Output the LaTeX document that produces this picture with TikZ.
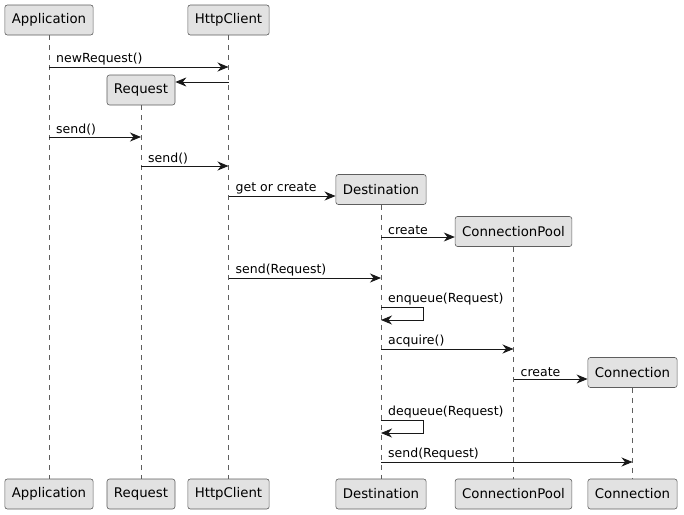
\documentclass[tikz,border=0pt]{standalone}
\usepackage{fontspec}
\setmainfont{DejaVu Sans}
\usetikzlibrary{arrows.meta}
\definecolor{boxfill}{HTML}{E2E2E2}
\definecolor{boxline}{HTML}{5E5E5E}
\definecolor{ink}{HTML}{181818}
\begin{document}
\begin{tikzpicture}[
    x=1pt, y=-1pt,
    >={Stealth[length=11pt,width=9pt,inset=3.5pt]},
    part/.style={draw=boxline, fill=boxfill, rounded corners=2.5pt, line width=0.6pt,
                 minimum height=30pt, inner xsep=7pt, font=\fontsize{13.3}{15}\selectfont},
    life/.style={draw=boxline, line width=0.6pt, dash pattern=on 5pt off 5pt},
    msg/.style={->, draw=ink, line width=0.9pt},
    lbl/.style={anchor=south west, inner sep=0pt, font=\fontsize{12.5}{14}\selectfont}
]
  \useasboundingbox (0,0) rectangle (684,514);

  % nodes
  \node[part] (appT)  at (49,20)      {Application};
  \node[part] (httpT) at (228.5,20)   {HttpClient};
  \node[part] (reqT)  at (141,90)     {Request};
  \node[part] (destT) at (381,189.5)  {Destination};
  \node[part] (poolT) at (513.5,231.5){ConnectionPool};
  \node[part] (connT) at (632.5,372.5){Connection};

  \node[part] (appB)  at (49,494)     {Application};
  \node[part] (reqB)  at (141,494)    {Request};
  \node[part] (httpB) at (228.5,494)  {HttpClient};
  \node[part] (destB) at (381,494)    {Destination};
  \node[part] (poolB) at (513.5,494)  {ConnectionPool};
  \node[part] (connB) at (632.5,494)  {Connection};

  % lifelines
  \draw[life] (appT)  -- (appB);
  \draw[life] (reqT)  -- (reqB);
  \draw[life] (httpT) -- (httpB);
  \draw[life] (destT) -- (destB);
  \draw[life] (poolT) -- (poolB);
  \draw[life] (connT) -- (connB);

  % message rows
  \coordinate (m1)  at (0,67);
  \coordinate (m2)  at (0,82);
  \coordinate (m3)  at (0,137);
  \coordinate (m4)  at (0,166);
  \coordinate (m5)  at (0,196);
  \coordinate (m6)  at (0,237);
  \coordinate (m7)  at (0,278);
  \coordinate (m8)  at (0,307);
  \coordinate (m9)  at (0,349);
  \coordinate (m10) at (0,379);
  \coordinate (m11) at (0,420);
  \coordinate (m12) at (0,462);

  % messages
  \draw[msg] (appT |- m1) -- (httpT |- m1);
  \node[lbl] at ([xshift=7pt,yshift=2pt]appT |- m1) {newRequest()};
  \draw[msg] (httpT |- m2) -- (reqT.east |- m2);

  \draw[msg] (appT |- m3) -- (reqT |- m3);
  \node[lbl] at ([xshift=7pt,yshift=2pt]appT |- m3) {send()};
  \draw[msg] (reqT |- m4) -- (httpT |- m4);
  \node[lbl] at ([xshift=7pt,yshift=2pt]reqT |- m4) {send()};

  \draw[msg] (httpT |- m5) -- (destT.west |- m5);
  \node[lbl] at ([xshift=7pt,yshift=2pt]httpT |- m5) {get or create};
  \draw[msg] (destT |- m6) -- (poolT.west |- m6);
  \node[lbl] at ([xshift=7pt,yshift=2pt]destT |- m6) {create};

  \draw[msg] (httpT |- m7) -- (destT |- m7);
  \node[lbl] at ([xshift=7pt,yshift=2pt]httpT |- m7) {send(Request)};

  \draw[msg] (destT |- m8) -- ++(42,0) -- ++(0,13) -- ++(-42,0);
  \node[lbl] at ([xshift=7pt,yshift=2pt]destT |- m8) {enqueue(Request)};

  \draw[msg] (destT |- m9) -- (poolT |- m9);
  \node[lbl] at ([xshift=7pt,yshift=2pt]destT |- m9) {acquire()};
  \draw[msg] (poolT |- m10) -- (connT.west |- m10);
  \node[lbl] at ([xshift=7pt,yshift=2pt]poolT |- m10) {create};

  \draw[msg] (destT |- m11) -- ++(42,0) -- ++(0,13) -- ++(-42,0);
  \node[lbl] at ([xshift=7pt,yshift=2pt]destT |- m11) {dequeue(Request)};

  \draw[msg] (destT |- m12) -- (connT |- m12);
  \node[lbl] at ([xshift=7pt,yshift=2pt]destT |- m12) {send(Request)};
\end{tikzpicture}
\end{document}
